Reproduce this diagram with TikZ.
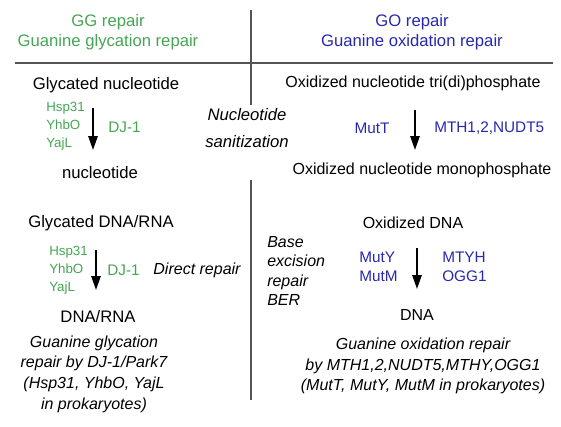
\documentclass[tikz,border=0pt]{standalone}
\usepackage{fontspec}
\setmainfont{Liberation Sans}
\usetikzlibrary{arrows.meta}
\definecolor{ggreen}{RGB}{70,165,85}
\definecolor{goblue}{RGB}{40,40,175}
\definecolor{rulegray}{RGB}{85,85,85}
\tikzset{
  rule/.style={color=rulegray, line width=0.8pt},
  arr/.style={line width=1.4pt, -{Triangle[length=10.5pt,width=7pt]}},
  maintxt/.style={inner sep=0.75pt, align=center, font=\fontsize{12.5}{15}\selectfont},
  righttxt/.style={maintxt, font=\fontsize{12}{15}\selectfont},
  enzgreen/.style={inner sep=0.75pt, align=left, text=ggreen, font=\fontsize{10}{13.5}\selectfont},
  djone/.style={inner sep=0.75pt, text=ggreen, font=\fontsize{11.5}{14}\selectfont},
  enzblue/.style={inner sep=0.75pt, align=left, text=goblue, font=\fontsize{11.5}{14.25}\selectfont},
  note/.style={inner sep=0.75pt, align=center, font=\fontsize{12}{15.5}\selectfont\itshape}
}
\begin{document}
\begin{tikzpicture}[x=0.75pt,y=0.75pt,yscale=-1]
\useasboundingbox (0,0) rectangle (561,426);

%Straight Lines
\coordinate (hl) at (15,63);
\coordinate (hr) at (553,63);
\coordinate (vtop) at (251,10);
\coordinate (vmid1) at (251,105);
\coordinate (vmid2) at (251,180);
\coordinate (vbot) at (251,400);
\draw [rule] (hl) -- (hr);
\draw [rule] (vtop) -- (vmid1);
\draw [rule] (vmid2) -- (vbot);

% Text Node
\node (gghead) at (108,32) [maintxt, text=ggreen] {GG repair\\Guanine glycation repair};
% Text Node
\node (gohead) at (412,32) [maintxt, text=goblue] {GO repair\\Guanine oxidation repair};

% Text Node
\node (gnuc) at (106,85) [maintxt] {Glycated nucleotide};
% Text Node
\node (gprot1) at (45,126) [enzgreen, anchor=west] {Hsp31\\YhbO\\YajL};
% Text Node
\node (djone1) at (107,127) [djone, anchor=west] {DJ-1};
% Text Node
\node (nuc) at (100,173) [maintxt] {nucleotide};
\coordinate (a1s) at (93,108);
\coordinate (a1e) at (93,150);
\draw [arr] (a1s) -- (a1e);

% Text Node
\node (sanit) at (247,128) [note, font=\fontsize{12.5}{20}\selectfont\itshape] {Nucleotide\\sanitization};

% Text Node
\node (oxtri) at (413,83) [righttxt] {Oxidized nucleotide tri(di)phosphate};
% Text Node
\node (mutt) at (372,128) [enzblue] {MutT};
% Text Node
\node (mth) at (433,128) [enzblue, anchor=west] {MTH1,2,NUDT5};
% Text Node
\node (oxmono) at (422,170) [righttxt] {Oxidized nucleotide monophosphate};
\coordinate (a2s) at (415,110);
\coordinate (a2e) at (415,150);
\draw [arr] (a2s) -- (a2e);

% Text Node
\node (gdna) at (101,223) [maintxt] {Glycated DNA/RNA};
% Text Node
\node (gprot2) at (48,270) [enzgreen, anchor=west] {Hsp31\\YhbO\\YajL};
% Text Node
\node (djone2) at (106,270) [djone, anchor=west] {DJ-1};
% Text Node
\node (direct) at (197,270) [note] {Direct repair};
% Text Node
\node (dnarna) at (98,317) [maintxt] {DNA/RNA};
\coordinate (a3s) at (96,250);
\coordinate (a3e) at (96,290);
\draw [arr] (a3s) -- (a3e);
% Text Node
\node (gnote) at (94,374) [note] {Guanine glycation\\repair by DJ-1/Park7\\(Hsp31, YhbO, YajL\\in prokaryotes)};

% Text Node
\node (oxdna) at (413,223) [righttxt] {Oxidized DNA};
% Text Node
\node (ber) at (266,271) [note, align=left, anchor=west, font=\fontsize{12}{14.6}\selectfont\itshape] {Base\\excision\\repair\\BER};
% Text Node
\node (muty) at (358,267) [enzblue, anchor=west] {MutY\\MutM};
% Text Node
\node (mtyh) at (441,267) [enzblue, anchor=west] {MTYH\\OGG1};
% Text Node
\node (dna) at (417,315) [righttxt] {DNA};
\coordinate (a4s) at (417,248);
\coordinate (a4e) at (417,289);
\draw [arr] (a4s) -- (a4e);
% Text Node
\node (onote) at (423,366) [note] {Guanine oxidation repair\\by MTH1,2,NUDT5,MTHY,OGG1\\(MutT, MutY, MutM in prokaryotes)};

\end{tikzpicture}
\end{document}
